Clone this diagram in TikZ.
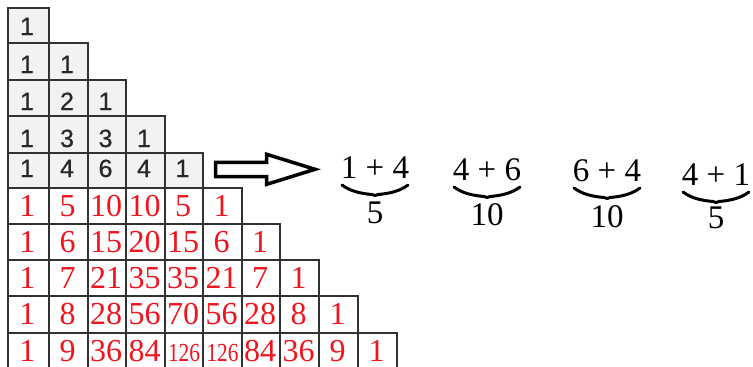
\documentclass[tikz,border=0pt]{standalone}
\usepackage{fontspec}
\setmainfont{Liberation Serif}
\newfontfamily\cellsans[FakeBold=0.6]{Liberation Sans}
\usetikzlibrary{calc}
\definecolor{cellfill}{RGB}{242,242,242}
\definecolor{gridline}{RGB}{50,50,50}
\definecolor{greytext}{RGB}{40,40,40}
\definecolor{numred}{RGB}{240,20,30}
\newcount\PascalVal
% curved underbrace below an expression node
\newcommand\UnderBrace[1]{%
  \draw[bracepen] ($(#1.base)+(-33,7)$) .. controls +(8,6) and +(-12,-1) ..
    ($(#1.base)+(-3,16.5)$) -- ($(#1.base)+(0,17.5)$) -- ($(#1.base)+(3,16.5)$)
    .. controls +(12,-1) and +(-8,6) .. ($(#1.base)+(33,7)$);}
\begin{document}
\begin{tikzpicture}[x=1pt,y=-1pt,
  gridpen/.style={draw=gridline, line width=1.6pt},
  greynum/.style={anchor=base, inner sep=0pt, text=greytext,
    font=\fontsize{25}{25}\selectfont\cellsans},
  rednum/.style={anchor=base, inner sep=0pt, text=numred,
    font=\fontsize{32}{32}\selectfont},
  rednum small/.style={rednum, font=\fontsize{26}{26}\selectfont},
  expr/.style={anchor=base, inner sep=0pt, font=\fontsize{33}{33}\selectfont},
  bracepen/.style={line width=3pt, line cap=round, line join=round},
  arrowpen/.style={draw=black, line width=3.5pt, line join=miter, fill=white}]
\fill[white] (0,0) rectangle (753,367);
\useasboundingbox (0,0) rectangle (753,367);
\clip (0,0) rectangle (753,367);

\def\colx{{8,49,88,126,165,203,242,280,319,358,397}}
\def\rowy{{8,43,80,116,153,188,224,260,296,333,369}}
\def\greybase{{35,73,110,147,177}}

% grey background of the first five rows
\foreach \r in {0,...,4}{
  \pgfmathsetmacro\ya{\rowy[\r]}
  \pgfmathsetmacro\yb{\rowy[\r+1]}
  \pgfmathsetmacro\xb{\colx[\r+1]}
  \fill[cellfill] (8,\ya) rectangle (\xb,\yb);
}

% cells of Pascal's triangle with their binomial coefficients
\foreach \r in {0,...,9}{
  \global\PascalVal=1
  \foreach \k in {0,...,\r}{
    \ifnum\k>0 \global\PascalVal=\numexpr\PascalVal*(\r-\k+1)/\k\relax\fi
    \pgfmathsetmacro\xa{\colx[\k]}
    \pgfmathsetmacro\xb{\colx[\k+1]}
    \pgfmathsetmacro\ya{\rowy[\r]}
    \pgfmathsetmacro\yb{\rowy[\r+1]}
    \draw[gridpen] (\xa,\ya) rectangle (\xb,\yb);
    \ifnum\r<5
      \pgfmathsetmacro\yt{\greybase[\r]}
      \node[greynum] (n\r-\k) at ({(\xa+\xb)/2-1.5},\yt) {\the\PascalVal};
    \else
      \pgfmathsetmacro\yt{\ya+28.5}
      \ifnum\PascalVal>99
        \node[rednum small] (n\r-\k) at ({(\xa+\xb)/2},\yt)
          {\scalebox{0.82}[1]{\the\PascalVal}};
      \else
        \node[rednum] (n\r-\k) at ({(\xa+\xb)/2-1},\yt) {\the\PascalVal};
      \fi
    \fi
  }
}

% hollow block arrow
\draw[arrowpen] (215.5,162.3) -- (266.7,162.3) -- (266.7,154.3) -- (315,169.3)
  -- (266.7,184.3) -- (266.7,176.7) -- (215.5,176.7) -- cycle;

% pairwise sums of row four
\node[expr] (e1) at (375,178) {1 + 4};
\node[expr] (e2) at (487,180) {4 + 6};
\node[expr] (e3) at (607,181) {6 + 4};
\node[expr] (e4) at (716,185) {4 + 1};
\node[expr] (s1) at ($(e1.base)+(0,45)$) {5};
\node[expr] (s2) at ($(e2.base)+(0,45)$) {10};
\node[expr] (s3) at ($(e3.base)+(0,46)$) {10};
\node[expr] (s4) at ($(e4.base)+(0,43)$) {5};
\UnderBrace{e1}
\UnderBrace{e2}
\UnderBrace{e3}
\UnderBrace{e4}
\end{tikzpicture}
\end{document}
